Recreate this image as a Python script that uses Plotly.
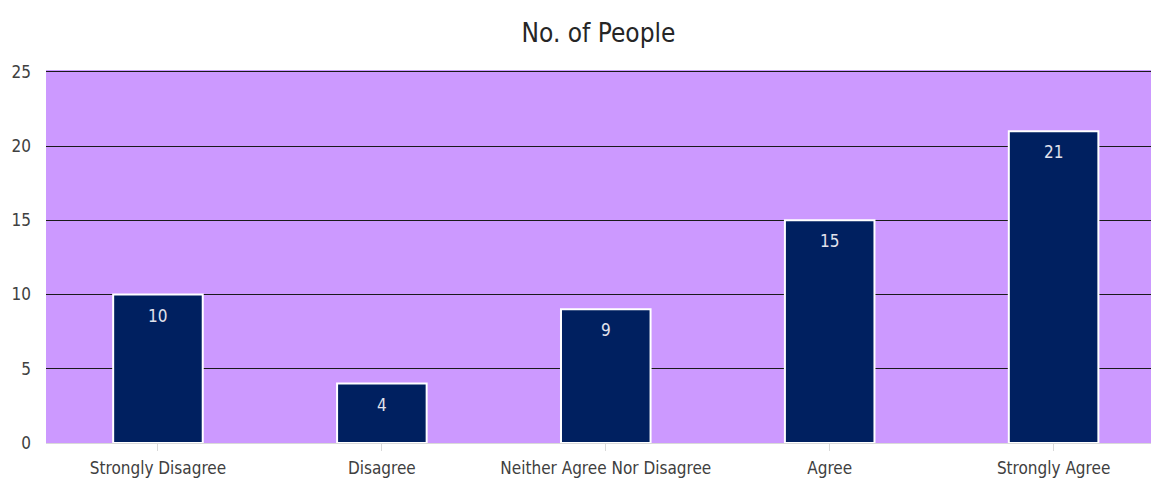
import plotly.graph_objects as go

categories = ["Strongly Disagree", "Disagree", "Neither Agree Nor Disagree", "Agree", "Strongly Agree"]
people = [10, 4, 9, 15, 21]
y_ticks = [0, 5, 10, 15, 20, 25]

FONT = "Liberation Sans Narrow, DejaVu Sans Condensed, Arial Narrow, sans-serif"

fig = go.Figure(
    go.Bar(
        x=list(range(len(categories))),
        y=people,
        marker=dict(color="#002060", line=dict(color="white", width=2)),
        width=0.4,
        hoverinfo="x+y",
    )
)

# value labels sit just inside the top of each bar
for i, v in enumerate(people):
    fig.add_annotation(
        x=i,
        y=v,
        text=str(v),
        showarrow=False,
        yanchor="middle",
        yshift=-21,
        font=dict(family=FONT, size=17, color="#e2e2ec"),
    )

fig.update_layout(
    width=1151,
    height=480,
    margin=dict(l=46, r=0, t=70, b=37),
    paper_bgcolor="white",
    plot_bgcolor="#CC99FF",
    showlegend=False,
    title=dict(
        text="No. of People",
        x=0.52,
        xanchor="center",
        y=0.932,
        yanchor="middle",
        font=dict(family=FONT, size=26, color="#262626"),
    ),
    font=dict(family=FONT, color="#404040"),
)

fig.update_xaxes(
    tickmode="array",
    tickvals=list(range(len(categories))),
    ticktext=categories,
    range=[-0.5, 4.435],
    tickson="boundaries",
    ticks="outside",
    ticklen=7,
    tickcolor="#d9d9d9",
    showline=True,
    linecolor="#d9d9d9",
    linewidth=1,
    showgrid=False,
    ticklabelstandoff=3,
    tickfont=dict(family=FONT, size=17, color="#404040"),
    fixedrange=True,
)

fig.update_yaxes(
    range=[0, 25.12],
    tickvals=y_ticks,
    showgrid=True,
    gridcolor="#1a1a1a",
    gridwidth=1,
    zeroline=False,
    showline=False,
    ticks="",
    ticklabelstandoff=14,
    tickfont=dict(family=FONT, size=17, color="#404040"),
    fixedrange=True,
)

fig.write_html("out.html", config={"displayModeBar": False})
